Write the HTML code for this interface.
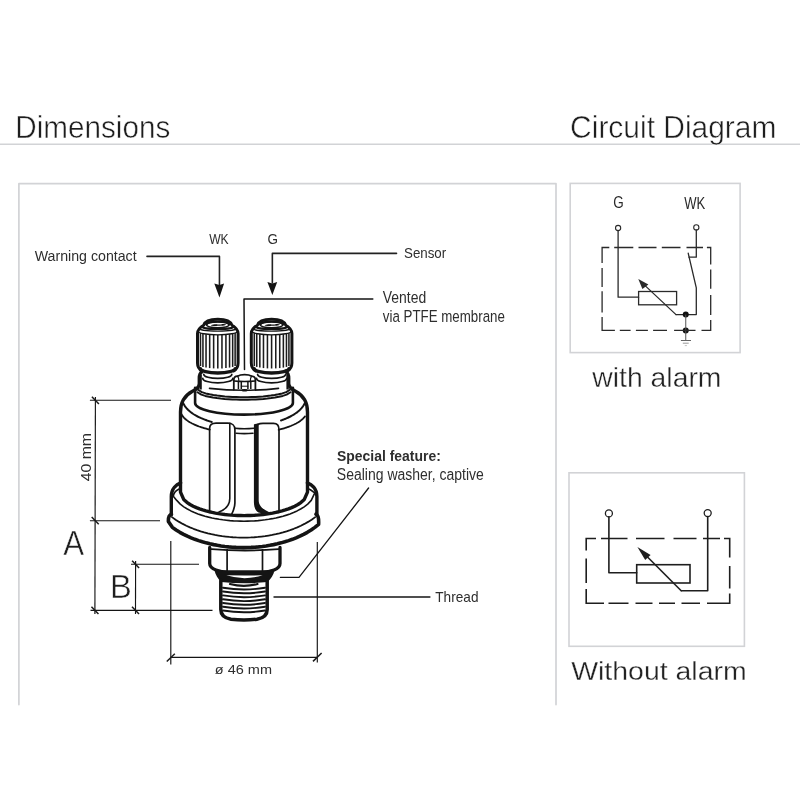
<!DOCTYPE html>
<html><head><meta charset="utf-8"><style>
html,body{margin:0;padding:0;background:#fff;}
svg{display:block;will-change:transform;}
text{font-family:"Liberation Sans",sans-serif;}
</style></head><body>
<svg width="800" height="800" viewBox="0 0 800 800">
<rect width="800" height="800" fill="#fff"/>
<text transform="translate(34.73,260.60) scale(0.9470,1)" font-size="14.98" font-weight="normal" fill="#2e2e2e">Warning contact</text>
<text transform="translate(209.14,243.60) scale(0.7889,1)" font-size="15.42" font-weight="normal" fill="#2e2e2e">WK</text>
<text transform="translate(267.53,243.60) scale(0.8747,1)" font-size="15.42" font-weight="normal" fill="#2e2e2e">G</text>
<text transform="translate(404.00,257.60) scale(0.8560,1)" font-size="15.56" font-weight="normal" fill="#2e2e2e">Sensor</text>
<text transform="translate(382.83,303.40) scale(0.8803,1)" font-size="15.85" font-weight="normal" fill="#2e2e2e">Vented</text>
<text transform="translate(382.83,322.00) scale(0.8403,1)" font-size="15.85" font-weight="normal" fill="#2e2e2e">via PTFE membrane</text>
<text transform="translate(337.08,461.00) scale(0.9121,1)" font-size="15.27" font-weight="bold" fill="#2e2e2e">Special feature:</text>
<text transform="translate(336.87,479.60) scale(0.8840,1)" font-size="15.85" font-weight="normal" fill="#2e2e2e">Sealing washer, captive</text>
<text transform="translate(435.29,602.00) scale(0.8837,1)" font-size="15.42" font-weight="normal" fill="#2e2e2e">Thread</text>
<text transform="translate(214.77,674.30) scale(1.1090,1)" font-size="13.09" font-weight="normal" fill="#2e2e2e">ø 46 mm</text>
<text transform="translate(63.32,554.70) scale(0.9026,1)" font-size="34.62" font-weight="normal" fill="#1e1e1e" stroke="#fff" stroke-width="0.5">A</text>
<text transform="translate(110.10,597.60) scale(0.9600,1)" font-size="34.04" font-weight="normal" fill="#1e1e1e" stroke="#fff" stroke-width="0.5">B</text>
<text transform="translate(91,481) rotate(-90) scale(1.0889,1) translate(-0.33,0)" font-size="14.55" fill="#2e2e2e">40 mm</text>
<path d="M147 256.4 H219.45 V285" stroke="#222" stroke-width="1.6" fill="none" stroke-linejoin="round" stroke-linecap="round" />
<polygon points="214.3,283.5 219.45,285.0 224.1,283.5 219.45,297.5" fill="#141414"/>
<path d="M396.5 253.4 H272.35 V283" stroke="#222" stroke-width="1.6" fill="none" stroke-linejoin="round" stroke-linecap="round" />
<polygon points="267.4,281.9 272.35,283.6 277.2,281.9 272.35,295.0" fill="#141414"/>
<path d="M372.8 299.1 H244.0 L244.5 369.5" stroke="#141414" stroke-width="1.5" fill="none" stroke-linejoin="round" stroke-linecap="round" />
<path d="M368.6 488 L299 577.4 H280.4" stroke="#141414" stroke-width="1.3" fill="none" stroke-linejoin="round" stroke-linecap="round" />
<line x1="273.5" y1="597.1" x2="430.4" y2="597.1" stroke="#141414" stroke-width="1.5" stroke-linecap="butt"/>
<line x1="89.9" y1="400.2" x2="171" y2="400.2" stroke="#141414" stroke-width="1.15" stroke-linecap="butt"/>
<line x1="89.9" y1="520.7" x2="160" y2="520.7" stroke="#141414" stroke-width="1.15" stroke-linecap="butt"/>
<line x1="95.4" y1="397" x2="94.9" y2="614" stroke="#141414" stroke-width="1.15" stroke-linecap="butt"/>
<line x1="131" y1="564.2" x2="199" y2="564.2" stroke="#141414" stroke-width="1.15" stroke-linecap="butt"/>
<line x1="135.6" y1="561" x2="135.5" y2="614" stroke="#141414" stroke-width="1.15" stroke-linecap="butt"/>
<line x1="90.5" y1="610.4" x2="212.5" y2="610.3" stroke="#141414" stroke-width="1.15" stroke-linecap="butt"/>
<line x1="170.8" y1="541" x2="170.8" y2="664.4" stroke="#141414" stroke-width="1.15" stroke-linecap="butt"/>
<line x1="317.3" y1="542" x2="317.3" y2="662.6" stroke="#141414" stroke-width="1.15" stroke-linecap="butt"/>
<line x1="170.8" y1="657.4" x2="317.3" y2="657.4" stroke="#141414" stroke-width="1.15" stroke-linecap="butt"/>
<line x1="91.9" y1="396.79999999999995" x2="98.9" y2="404.0" stroke="#1a1a1a" stroke-width="1.5" stroke-linecap="butt"/>
<line x1="91.7" y1="517.0" x2="98.7" y2="524.2" stroke="#1a1a1a" stroke-width="1.5" stroke-linecap="butt"/>
<line x1="91.45" y1="606.8" x2="98.45" y2="614.0" stroke="#1a1a1a" stroke-width="1.5" stroke-linecap="butt"/>
<line x1="132.1" y1="560.8" x2="139.1" y2="568.0" stroke="#1a1a1a" stroke-width="1.5" stroke-linecap="butt"/>
<line x1="132.0" y1="606.8" x2="139.0" y2="614.0" stroke="#1a1a1a" stroke-width="1.5" stroke-linecap="butt"/>
<line x1="166.768" y1="661.52" x2="174.83200000000002" y2="653.6800000000001" stroke="#1a1a1a" stroke-width="1.5" stroke-linecap="butt"/>
<line x1="312.98" y1="661.4000000000001" x2="321.62" y2="653.0" stroke="#1a1a1a" stroke-width="1.5" stroke-linecap="butt"/>
<path d="M171.4 514.2 C169.5 515 168.2 517.5 168.4 521.5 L172.35 527.37 L176.10 529.99 L179.85 532.31 L183.60 534.36 L187.35 536.19 L191.10 537.84 L194.85 539.31 L198.60 540.63 L202.35 541.82 L206.10 542.87 L209.85 543.81 L213.60 544.63 L217.35 545.34 L221.10 545.95 L224.85 546.46 L228.60 546.87 L232.35 547.19 L236.10 547.42 L239.85 547.55 L243.60 547.60 L247.35 547.55 L251.10 547.42 L254.85 547.19 L258.60 546.87 L262.35 546.46 L266.10 545.95 L269.85 545.34 L273.60 544.63 L277.35 543.81 L281.10 542.87 L284.85 541.82 L288.60 540.63 L292.35 539.31 L296.10 537.84 L299.85 536.19 L303.60 534.36 L307.35 532.31 L311.10 529.99 L314.85 527.37 L318.60 524.34 C319 517.5 317.8 515 316.0 514.2" stroke="#141414" stroke-width="3.6" fill="none" stroke-linejoin="round" stroke-linecap="round" />
<path d="M180.6 482.8 C176.5 484.3 171.3 488.5 171.3 496.5 V515" stroke="#141414" stroke-width="3.4" fill="none" stroke-linejoin="round" stroke-linecap="round" />
<path d="M307.4 482.8 C311.5 484.3 316.9 488.5 316.9 496.5 V515" stroke="#141414" stroke-width="3.4" fill="none" stroke-linejoin="round" stroke-linecap="round" />
<path d="M172.00 517.11 L175.58 519.65 L179.16 521.90 L182.74 523.91 L186.32 525.71 L189.90 527.33 L193.48 528.79 L197.06 530.11 L200.64 531.29 L204.22 532.36 L207.80 533.31 L211.38 534.15 L214.96 534.90 L218.54 535.54 L222.12 536.10 L225.70 536.56 L229.28 536.94 L232.86 537.23 L236.44 537.44 L240.02 537.56 L243.60 537.60 L247.18 537.56 L250.76 537.44 L254.34 537.23 L257.92 536.94 L261.50 536.56 L265.08 536.10 L268.66 535.54 L272.24 534.90 L275.82 534.15 L279.40 533.31 L282.98 532.36 L286.56 531.29 L290.14 530.11 L293.72 528.79 L297.30 527.33 L300.88 525.71 L304.46 523.91 L308.04 521.90 L311.62 519.65 L315.20 517.11" stroke="#141414" stroke-width="1.8" fill="none" stroke-linejoin="round" stroke-linecap="round" />
<path d="M178.6 489.2 C175.8 490.6 173.6 493.2 173.3 496.3 L176.74 500.40 L180.28 504.10 L183.82 506.84 L187.36 509.05 L190.90 510.91 L194.44 512.51 L197.98 513.90 L201.52 515.12 L205.06 516.19 L208.60 517.13 L212.14 517.95 L215.68 518.66 L219.22 519.28 L222.76 519.80 L226.30 520.23 L229.84 520.59 L233.38 520.86 L236.92 521.05 L240.46 521.16 L244.00 521.20 L247.54 521.16 L251.08 521.05 L254.62 520.86 L258.16 520.59 L261.70 520.23 L265.24 519.80 L268.78 519.28 L272.32 518.66 L275.86 517.95 L279.40 517.13 L282.94 516.19 L286.48 515.12 L290.02 513.90 L293.56 512.51 L297.10 510.91 L300.64 509.05 L304.18 506.84 L307.72 504.10 L311.26 500.40 L314.80 492.90 C314.4 493.2 312.2 490.6 309.4 489.2" stroke="#141414" stroke-width="1.6" fill="none" stroke-linejoin="round" stroke-linecap="round" />
<path d="M202.4 371 C200.2 372.8 199.3 375 199.3 378 V383.5 C199.3 387 196.5 389.3 192.5 391.3 C186 394.8 180.5 400.5 180.5 412 V492.1 L183.68 499.44 L186.85 502.34 L190.03 504.48 L193.20 506.20 L196.38 507.64 L199.55 508.88 L202.72 509.96 L205.90 510.90 L209.07 511.73 L212.25 512.45 L215.43 513.09 L218.60 513.64 L221.78 514.11 L224.95 514.52 L228.12 514.85 L231.30 515.13 L234.47 515.33 L237.65 515.48 L240.82 515.57 L244.00 515.60 L247.18 515.57 L250.35 515.48 L253.53 515.33 L256.70 515.13 L259.88 514.85 L263.05 514.52 L266.23 514.11 L269.40 513.64 L272.57 513.09 L275.75 512.45 L278.93 511.73 L282.10 510.90 L285.27 509.96 L288.45 508.88 L291.62 507.64 L294.80 506.20 L297.98 504.48 L301.15 502.34 L304.32 499.44 L307.50 492.10 V412 C307.5 400.5 302 394.8 295.5 391.3 C291.7 389.3 288.7 387 288.7 383.5 V378 C288.7 375 287.8 372.8 285.6 371" stroke="#141414" stroke-width="3.4" fill="none" stroke-linejoin="round" stroke-linecap="round" />
<line x1="200.6" y1="375" x2="200.6" y2="389.5" stroke="#141414" stroke-width="2.4" stroke-linecap="butt"/>
<line x1="287.6" y1="375" x2="287.6" y2="389.5" stroke="#141414" stroke-width="2.4" stroke-linecap="butt"/>
<path d="M209.5 388.3 Q244 392.2 278.5 388.3" stroke="#141414" stroke-width="1.7" fill="none" stroke-linejoin="round" stroke-linecap="round" />
<path d="M195.1 387.8 V403 A48.9 11.6 0 0 0 292.9 403 V387.8" stroke="#141414" stroke-width="2.6" fill="none" stroke-linejoin="round" stroke-linecap="round" />
<path d="M198.00 389.77 L201.83 392.17 L205.67 393.42 L209.50 394.33 L213.33 395.04 L217.17 395.61 L221.00 396.06 L224.83 396.43 L228.67 396.71 L232.50 396.93 L236.33 397.08 L240.17 397.17 L244.00 397.20 L247.83 397.17 L251.67 397.08 L255.50 396.93 L259.33 396.71 L263.17 396.43 L267.00 396.06 L270.83 395.61 L274.67 395.04 L278.50 394.33 L282.33 393.42 L286.17 392.17 L290.00 389.77" stroke="#141414" stroke-width="2.0" fill="none" stroke-linejoin="round" stroke-linecap="round" />
<path d="M197.50 392.27 L201.38 394.67 L205.25 395.92 L209.12 396.83 L213.00 397.54 L216.88 398.10 L220.75 398.56 L224.62 398.93 L228.50 399.21 L232.38 399.43 L236.25 399.58 L240.12 399.67 L244.00 399.70 L247.88 399.67 L251.75 399.58 L255.62 399.43 L259.50 399.21 L263.38 398.93 L267.25 398.56 L271.12 398.10 L275.00 397.54 L278.88 396.83 L282.75 395.92 L286.62 394.67 L290.50 392.27" stroke="#141414" stroke-width="2.0" fill="none" stroke-linejoin="round" stroke-linecap="round" />
<path d="M183.50 403.75 L184.68 405.82 L185.86 407.43 L187.04 408.79 L188.22 409.98 L189.40 411.05 L190.57 412.01 L191.75 412.90 L192.93 413.72 L194.11 414.48 L195.29 415.20 L196.47 415.86 L197.65 416.50 L198.83 417.09 L200.01 417.65 L201.19 418.19 L202.37 418.69 L203.55 419.17 L204.73 419.63 L205.90 420.06 L207.08 420.48 L208.26 420.87 L209.44 421.25 L210.62 421.60 L211.80 421.94" stroke="#141414" stroke-width="2.0" fill="none" stroke-linejoin="round" stroke-linecap="round" />
<path d="M281.00 420.45 L281.98 420.11 L282.96 419.75 L283.94 419.38 L284.92 418.99 L285.90 418.58 L286.88 418.16 L287.85 417.72 L288.83 417.25 L289.81 416.77 L290.79 416.26 L291.77 415.73 L292.75 415.17 L293.73 414.58 L294.71 413.96 L295.69 413.29 L296.67 412.59 L297.65 411.84 L298.62 411.03 L299.60 410.15 L300.58 409.19 L301.56 408.13 L302.54 406.92 L303.52 405.51 L304.50 403.75" stroke="#141414" stroke-width="2.0" fill="none" stroke-linejoin="round" stroke-linecap="round" />
<path d="M181.50 414.27 L182.68 416.17 L183.86 417.58 L185.04 418.74 L186.22 419.74 L187.40 420.62 L188.57 421.42 L189.75 422.16 L190.93 422.83 L192.11 423.46 L193.29 424.04 L194.47 424.59 L195.65 425.11 L196.83 425.60 L198.01 426.06 L199.19 426.50 L200.37 426.91 L201.55 427.30 L202.73 427.68 L203.90 428.03 L205.08 428.37 L206.26 428.70 L207.44 429.01 L208.62 429.30 L209.80 429.58" stroke="#141414" stroke-width="1.8" fill="none" stroke-linejoin="round" stroke-linecap="round" />
<path d="M278.60 429.77 L279.70 429.50 L280.80 429.21 L281.90 428.92 L283.00 428.61 L284.10 428.28 L285.20 427.95 L286.30 427.59 L287.40 427.22 L288.50 426.83 L289.60 426.42 L290.70 425.99 L291.80 425.53 L292.90 425.05 L294.00 424.54 L295.10 424.00 L296.20 423.43 L297.30 422.82 L298.40 422.16 L299.50 421.44 L300.60 420.66 L301.70 419.80 L302.80 418.83 L303.90 417.70 L305.00 416.33" stroke="#141414" stroke-width="1.8" fill="none" stroke-linejoin="round" stroke-linecap="round" />
<path d="M209.6 512 V428.5 C209.6 425 212 423.2 216 423.2 H228 C232 423.2 234.9 425.5 234.9 429.5 V503 C234.9 508 233 511.5 231.5 514.5" stroke="#141414" stroke-width="1.7" fill="none" stroke-linejoin="round" stroke-linecap="round" />
<path d="M229.8 423.4 V498.5 C229.8 505 225.5 509.5 219 512" stroke="#141414" stroke-width="1.6" fill="none" stroke-linejoin="round" stroke-linecap="round" />
<path d="M234.9 428.2 Q244 429.2 254.0 428.2" stroke="#141414" stroke-width="1.6" fill="none" stroke-linejoin="round" stroke-linecap="round" />
<path d="M236 433.2 Q244 434 253.0 433.2" stroke="#141414" stroke-width="1.6" fill="none" stroke-linejoin="round" stroke-linecap="round" />
<path d="M256.3 502 V427.5 C256.3 424.5 259.5 423.3 263 423.3 H273.5 C277 423.3 279 425.5 279 429.5 V511.6" stroke="#141414" stroke-width="1.7" fill="none" stroke-linejoin="round" stroke-linecap="round" />
<path d="M253.9 424.5 C255.3 423.6 257.5 423.4 258.7 423.4 L258.7 500.5 C258.7 505 262 508.5 266 510.5 C268 511.6 270 512.6 271 513.4 C265 514 259 513.5 257 511.5 C255 509.5 253.9 506 253.9 502 Z" fill="#141414"/>
<path d="M209.7 547.5 V563.5 C209.7 566.5 212 568.5 216 570 C220 571.5 224 572 228 572 H262 C266 572 270 571.5 274 570 C278 568.5 280 566.5 280 563.5 V547.5" stroke="#141414" stroke-width="3.3" fill="none" stroke-linejoin="round" stroke-linecap="round" />
<line x1="227.1" y1="549" x2="227.1" y2="571" stroke="#141414" stroke-width="1.7" stroke-linecap="butt"/>
<line x1="262.5" y1="549" x2="262.5" y2="571" stroke="#141414" stroke-width="1.7" stroke-linecap="butt"/>
<path d="M211.5 549.2 Q245 551.8 278.5 549.2" stroke="#141414" stroke-width="1.8" fill="none" stroke-linejoin="round" stroke-linecap="round" />
<path d="M214.5 570.6 Q244.5 574.2 274.5 570.6 C273.5 575 271 579 267.5 582 Q244.5 584.5 221.2 582 C218 579 215.5 575 214.5 570.6 Z" fill="#141414"/>
<path d="M226.4 575.3 Q244.5 575.6 262.6 575.3 Q244.5 581.0 226.4 575.3 Z" fill="#fff"/>
<path d="M220.8 580.5 V609.5 C220.8 614.5 224 618 231 619.2 Q244 620.6 257 619.2 C264 618 267.2 614.5 267.2 609.5 V580.5" stroke="#141414" stroke-width="3.5" fill="none" stroke-linejoin="round" stroke-linecap="round" />
<path d="M230 584.0 Q244 587.6 257.5 584.0" stroke="#141414" stroke-width="2.2" fill="none" stroke-linejoin="round" stroke-linecap="round" />
<path d="M223.0 587.6999999999999 Q244 591.3 265.0 587.6999999999999" stroke="#141414" stroke-width="1.9" fill="none" stroke-linejoin="round" stroke-linecap="round" />
<path d="M223.0 591.5 Q244 595.1 265.0 591.5" stroke="#141414" stroke-width="1.9" fill="none" stroke-linejoin="round" stroke-linecap="round" />
<path d="M223.0 595.4 Q244 599.0 265.0 595.4" stroke="#141414" stroke-width="1.9" fill="none" stroke-linejoin="round" stroke-linecap="round" />
<path d="M223.0 599.3 Q244 602.9 265.0 599.3" stroke="#141414" stroke-width="1.9" fill="none" stroke-linejoin="round" stroke-linecap="round" />
<path d="M223.0 603.0 Q244 606.6 265.0 603.0" stroke="#141414" stroke-width="1.9" fill="none" stroke-linejoin="round" stroke-linecap="round" />
<path d="M223.0 606.6999999999999 Q244 610.3 265.0 606.6999999999999" stroke="#141414" stroke-width="1.9" fill="none" stroke-linejoin="round" stroke-linecap="round" />
<path d="M223.0 610.5 Q244 614.1 265.0 610.5" stroke="#141414" stroke-width="1.9" fill="none" stroke-linejoin="round" stroke-linecap="round" />
<line x1="200.48" y1="333.08" x2="200.48" y2="366.11" stroke="#1c1c1c" stroke-width="1.55" stroke-linecap="butt"/>
<line x1="202.94" y1="333.65" x2="202.94" y2="366.91" stroke="#1c1c1c" stroke-width="1.55" stroke-linecap="butt"/>
<line x1="206.04" y1="334.13" x2="206.04" y2="367.58" stroke="#1c1c1c" stroke-width="1.55" stroke-linecap="butt"/>
<line x1="209.67" y1="334.5" x2="209.67" y2="368.08" stroke="#1c1c1c" stroke-width="1.55" stroke-linecap="butt"/>
<line x1="213.64" y1="334.72" x2="213.64" y2="368.39" stroke="#1c1c1c" stroke-width="1.55" stroke-linecap="butt"/>
<line x1="217.8" y1="334.8" x2="217.8" y2="368.5" stroke="#1c1c1c" stroke-width="1.55" stroke-linecap="butt"/>
<line x1="221.96" y1="334.72" x2="221.96" y2="368.39" stroke="#1c1c1c" stroke-width="1.55" stroke-linecap="butt"/>
<line x1="225.93" y1="334.5" x2="225.93" y2="368.08" stroke="#1c1c1c" stroke-width="1.55" stroke-linecap="butt"/>
<line x1="229.56" y1="334.13" x2="229.56" y2="367.58" stroke="#1c1c1c" stroke-width="1.55" stroke-linecap="butt"/>
<line x1="232.66" y1="333.65" x2="232.66" y2="366.91" stroke="#1c1c1c" stroke-width="1.55" stroke-linecap="butt"/>
<line x1="235.12" y1="333.08" x2="235.12" y2="366.11" stroke="#1c1c1c" stroke-width="1.55" stroke-linecap="butt"/>
<path d="M202.0 371 C198.5 369 197.5 366.5 197.5 363 V333.5 C197.5 330.5 199.5 327.6 203.7 325.2 C204.7 321.8 208.5 319.2 217.8 319.2 C227.10000000000002 319.2 230.90000000000003 321.8 231.90000000000003 325.2 C236.10000000000002 327.6 238.10000000000002 330.5 238.10000000000002 333.5 V363 C238.10000000000002 366.5 237.10000000000002 369 233.60000000000002 371" stroke="#141414" stroke-width="3.0" fill="none" stroke-linejoin="round" stroke-linecap="round" />
<path d="M200.5 368.6 A17.3 4.4 0 0 0 235.10000000000002 368.6" stroke="#141414" stroke-width="3.4" fill="none" stroke-linejoin="round" stroke-linecap="round" />
<path d="M198.1 331.2 A19.7 3.6 0 0 0 237.50000000000003 331.2" stroke="#141414" stroke-width="1.3" fill="none" stroke-linejoin="round" stroke-linecap="round" />
<path d="M199.20000000000002 328.6 A18.6 2.5 0 0 0 236.4 328.6" stroke="#141414" stroke-width="1.4" fill="none" stroke-linejoin="round" stroke-linecap="round" />
<path d="M201.8 326.4 A16 2.6 0 0 0 233.8 326.4" stroke="#141414" stroke-width="2.1" fill="none" stroke-linejoin="round" stroke-linecap="round" />
<ellipse cx="217.8" cy="324.8" rx="11.3" ry="2.9" stroke="#141414" stroke-width="1.4" fill="none"/>
<path d="M206.3 324.5 C207.8 320.8 227.8 320.8 229.3 324.5" stroke="#141414" stroke-width="2.2" fill="none" stroke-linejoin="round" stroke-linecap="round" />
<path d="M210.8 325.5 C212.8 323.9 222.8 323.7 226.3 324.5 C224.8 326.1 214.8 326.6 210.8 325.5 Z" fill="#141414"/>
<path d="M216.3 324.9 C217.8 324.4 220.8 324.4 222.3 324.9 C220.8 325.5 217.8 325.5 216.3 324.9 Z" fill="#fff"/>
<path d="M203.8 374.4 A14 4.0 0 0 0 231.8 374.4" stroke="#141414" stroke-width="1.7" fill="none" stroke-linejoin="round" stroke-linecap="round" />
<path d="M202.8 378.4 A15 4.4 0 0 0 232.8 378.4" stroke="#141414" stroke-width="1.7" fill="none" stroke-linejoin="round" stroke-linecap="round" />
<line x1="254.28" y1="333.08" x2="254.28" y2="366.11" stroke="#1c1c1c" stroke-width="1.55" stroke-linecap="butt"/>
<line x1="256.74" y1="333.65" x2="256.74" y2="366.91" stroke="#1c1c1c" stroke-width="1.55" stroke-linecap="butt"/>
<line x1="259.84" y1="334.13" x2="259.84" y2="367.58" stroke="#1c1c1c" stroke-width="1.55" stroke-linecap="butt"/>
<line x1="263.47" y1="334.5" x2="263.47" y2="368.08" stroke="#1c1c1c" stroke-width="1.55" stroke-linecap="butt"/>
<line x1="267.44" y1="334.72" x2="267.44" y2="368.39" stroke="#1c1c1c" stroke-width="1.55" stroke-linecap="butt"/>
<line x1="271.6" y1="334.8" x2="271.6" y2="368.5" stroke="#1c1c1c" stroke-width="1.55" stroke-linecap="butt"/>
<line x1="275.76" y1="334.72" x2="275.76" y2="368.39" stroke="#1c1c1c" stroke-width="1.55" stroke-linecap="butt"/>
<line x1="279.73" y1="334.5" x2="279.73" y2="368.08" stroke="#1c1c1c" stroke-width="1.55" stroke-linecap="butt"/>
<line x1="283.36" y1="334.13" x2="283.36" y2="367.58" stroke="#1c1c1c" stroke-width="1.55" stroke-linecap="butt"/>
<line x1="286.46" y1="333.65" x2="286.46" y2="366.91" stroke="#1c1c1c" stroke-width="1.55" stroke-linecap="butt"/>
<line x1="288.92" y1="333.08" x2="288.92" y2="366.11" stroke="#1c1c1c" stroke-width="1.55" stroke-linecap="butt"/>
<path d="M255.8 371 C252.3 369 251.3 366.5 251.3 363 V333.5 C251.3 330.5 253.3 327.6 257.5 325.2 C258.5 321.8 262.3 319.2 271.6 319.2 C280.90000000000003 319.2 284.70000000000005 321.8 285.70000000000005 325.2 C289.90000000000003 327.6 291.90000000000003 330.5 291.90000000000003 333.5 V363 C291.90000000000003 366.5 290.90000000000003 369 287.40000000000003 371" stroke="#141414" stroke-width="3.0" fill="none" stroke-linejoin="round" stroke-linecap="round" />
<path d="M254.3 368.6 A17.3 4.4 0 0 0 288.90000000000003 368.6" stroke="#141414" stroke-width="3.4" fill="none" stroke-linejoin="round" stroke-linecap="round" />
<path d="M251.9 331.2 A19.7 3.6 0 0 0 291.3 331.2" stroke="#141414" stroke-width="1.3" fill="none" stroke-linejoin="round" stroke-linecap="round" />
<path d="M253.00000000000003 328.6 A18.6 2.5 0 0 0 290.20000000000005 328.6" stroke="#141414" stroke-width="1.4" fill="none" stroke-linejoin="round" stroke-linecap="round" />
<path d="M255.60000000000002 326.4 A16 2.6 0 0 0 287.6 326.4" stroke="#141414" stroke-width="2.1" fill="none" stroke-linejoin="round" stroke-linecap="round" />
<ellipse cx="271.6" cy="324.8" rx="11.3" ry="2.9" stroke="#141414" stroke-width="1.4" fill="none"/>
<path d="M260.1 324.5 C261.6 320.8 281.6 320.8 283.1 324.5" stroke="#141414" stroke-width="2.2" fill="none" stroke-linejoin="round" stroke-linecap="round" />
<path d="M264.6 325.5 C266.6 323.9 276.6 323.7 280.1 324.5 C278.6 326.1 268.6 326.6 264.6 325.5 Z" fill="#141414"/>
<path d="M270.1 324.9 C271.6 324.4 274.6 324.4 276.1 324.9 C274.6 325.5 271.6 325.5 270.1 324.9 Z" fill="#fff"/>
<path d="M257.6 374.4 A14 4.0 0 0 0 285.6 374.4" stroke="#141414" stroke-width="1.7" fill="none" stroke-linejoin="round" stroke-linecap="round" />
<path d="M256.6 378.4 A15 4.4 0 0 0 286.6 378.4" stroke="#141414" stroke-width="1.7" fill="none" stroke-linejoin="round" stroke-linecap="round" />
<path d="M233.8 389.5 V380 C233.8 377.5 235 376.3 237.5 376.2 C239 375.2 241 374.6 244.6 374.6 C248.2 374.6 250.2 375.2 251.7 376.2 C254.2 376.3 255.4 377.5 255.4 380 V389.5" stroke="#141414" stroke-width="1.8" fill="none" stroke-linejoin="round" stroke-linecap="round" />
<path d="M237.5 376.2 C238.4 377.4 239 378.6 238.8 380.5" stroke="#141414" stroke-width="1.2" fill="none" stroke-linejoin="round" stroke-linecap="round" />
<path d="M251.7 376.2 C250.8 377.4 250.2 378.6 250.4 380.5" stroke="#141414" stroke-width="1.2" fill="none" stroke-linejoin="round" stroke-linecap="round" />
<path d="M234 381.0 Q244.6 382.0 255.2 381.0" stroke="#141414" stroke-width="1.4" fill="none" stroke-linejoin="round" stroke-linecap="round" />
<line x1="238.4" y1="381.3" x2="238.4" y2="389" stroke="#141414" stroke-width="1.5" stroke-linecap="butt"/>
<line x1="241.3" y1="381.3" x2="241.3" y2="389" stroke="#141414" stroke-width="1.5" stroke-linecap="butt"/>
<line x1="247.9" y1="381.3" x2="247.9" y2="389" stroke="#141414" stroke-width="1.5" stroke-linecap="butt"/>
<line x1="250.8" y1="381.3" x2="250.8" y2="389" stroke="#141414" stroke-width="1.5" stroke-linecap="butt"/>
<path d="M241.3 386.2 H247.9" stroke="#141414" stroke-width="1.0" fill="none" stroke-linejoin="round" stroke-linecap="round" />
<ellipse cx="244.6" cy="390.2" rx="3.2" ry="1.3" fill="#141414"/>
<line x1="0" y1="144.3" x2="800" y2="144.3" stroke="#d2d3d6" stroke-width="1.5" stroke-linecap="butt"/>
<text transform="translate(15.35,137.50) scale(0.9269,1)" font-size="32.00" font-weight="normal" fill="#1e1e1e" stroke="#fff" stroke-width="0.5">Dimensions</text>
<text transform="translate(570.10,137.50) scale(0.9581,1)" font-size="31.27" font-weight="normal" fill="#1e1e1e" stroke="#fff" stroke-width="0.5">Circuit Diagram</text>
<path d="M18.9 704.6 V183.6 H556.0 V704.6" stroke="#d2d3d6" stroke-width="1.7" fill="none" stroke-linejoin="round" stroke-linecap="round" />
<rect x="570.2" y="183.4" width="169.9" height="169.2" stroke="#d2d3d6" stroke-width="1.6" fill="none"/>
<rect x="569.0" y="472.8" width="175.4" height="173.5" stroke="#d2d3d6" stroke-width="1.6" fill="none"/>
<text transform="translate(613.23,208.30) scale(0.8429,1)" font-size="16.00" font-weight="normal" fill="#2a2a2a">G</text>
<text transform="translate(684.23,208.80) scale(0.8150,1)" font-size="16.00" font-weight="normal" fill="#2a2a2a">WK</text>
<circle cx="618.1" cy="228" r="2.6" stroke="#2a2a2a" stroke-width="1.1" fill="#fff"/>
<circle cx="696.3" cy="227.4" r="2.6" stroke="#2a2a2a" stroke-width="1.1" fill="#fff"/>
<path d="M618.1 230.6 V297.2 H638.6" stroke="#2a2a2a" stroke-width="1.3" fill="none" stroke-linejoin="round" stroke-linecap="round" />
<rect x="638.6" y="291.5" width="38" height="13.3" stroke="#2a2a2a" stroke-width="1.3" fill="none"/>
<path d="M676 314.6 L644 284.6" stroke="#2a2a2a" stroke-width="1.3" fill="none" stroke-linejoin="round" stroke-linecap="round" />
<polygon points="638.3,279.1 648.4,284.4 642.4,289.0" fill="#2a2a2a"/>
<path d="M676 314.6 H696.3 V287.8 L688.2 253.2" stroke="#2a2a2a" stroke-width="1.3" fill="none" stroke-linejoin="round" stroke-linecap="round" />
<path d="M696.3 230.0 V257.2 H689.0" stroke="#2a2a2a" stroke-width="1.3" fill="none" stroke-linejoin="round" stroke-linecap="round" />
<circle cx="685.75" cy="314.6" r="3.0" fill="#111"/>
<circle cx="685.75" cy="330.4" r="3.0" fill="#111"/>
<line x1="685.75" y1="314.6" x2="685.75" y2="340.5" stroke="#555" stroke-width="1.0" stroke-linecap="butt"/>
<line x1="680.9" y1="340.5" x2="691" y2="340.5" stroke="#666" stroke-width="1.0" stroke-linecap="butt"/>
<line x1="682.8" y1="343.2" x2="688.7" y2="343.2" stroke="#999" stroke-width="1.0" stroke-linecap="butt"/>
<line x1="684.8" y1="345.6" x2="686.9" y2="345.6" stroke="#bbb" stroke-width="0.9" stroke-linecap="butt"/>
<path d="M614.2 247.5 H633.3 M638.5 247.5 H656.5 M661.8 247.5 H680.5 M686.5 247.5 H703.0 M619.8 330.4 H630.6 M635.9 330.4 H647.9 M653.1 330.4 H667.0 M674.1 330.4 H695.5 M602.1 268.1 V286.9 M602.1 291.3 V312.5 M710.7 269.4 V288.8 M710.7 295.0 V315.0 M609.3 247.5 H602.1 V263.1 M602.1 316.9 V330.4 H614.9 M706.9 247.5 H710.7 V264.4 M710.7 320.0 V330.4 H701.5" stroke="#2a2a2a" stroke-width="1.3" fill="none" stroke-linejoin="miter"/>
<text transform="translate(592.30,386.70) scale(1.0490,1)" font-size="27.03" font-weight="normal" fill="#222" stroke="#fff" stroke-width="0.35">with alarm</text>
<circle cx="608.9" cy="513.4" r="3.5" stroke="#1e1e1e" stroke-width="1.3" fill="#fff"/>
<circle cx="707.7" cy="513.1" r="3.5" stroke="#1e1e1e" stroke-width="1.3" fill="#fff"/>
<path d="M608.9 516.9 V572.7 H636.7" stroke="#1e1e1e" stroke-width="1.6" fill="none" stroke-linejoin="round" stroke-linecap="round" />
<rect x="636.7" y="564.7" width="53.3" height="18.3" stroke="#1e1e1e" stroke-width="1.6" fill="none"/>
<path d="M681.2 590.7 L644 553.5" stroke="#1e1e1e" stroke-width="1.6" fill="none" stroke-linejoin="round" stroke-linecap="round" />
<polygon points="637.4,546.9 650.6,555.1 645.2,559.9" fill="#1e1e1e"/>
<path d="M681.4 590.7 H707.7 V516.6" stroke="#1e1e1e" stroke-width="1.6" fill="none" stroke-linejoin="round" stroke-linecap="round" />
<path d="M601 538.5 H627.5 M636 538.5 H664.5 M673.5 538.5 H696.5 M703 538.5 H720 M608.5 603.2 H628.5 M635.5 603.2 H652.5 M659 603.2 H675 M681.5 603.2 H700 M586.2 558.5 V583 M729.7 566 V588.5 M596 538.5 H586.2 V550.5 M586.2 589 V603.2 H604 M724 538.5 H729.7 V557.5 M729.7 593.5 V603.2 H707" stroke="#1e1e1e" stroke-width="1.6" fill="none" stroke-linejoin="miter"/>
<text transform="translate(571.16,679.50) scale(1.0755,1)" font-size="26.47" font-weight="normal" fill="#222" stroke="#fff" stroke-width="0.3">Without alarm</text>
</svg></body></html>
